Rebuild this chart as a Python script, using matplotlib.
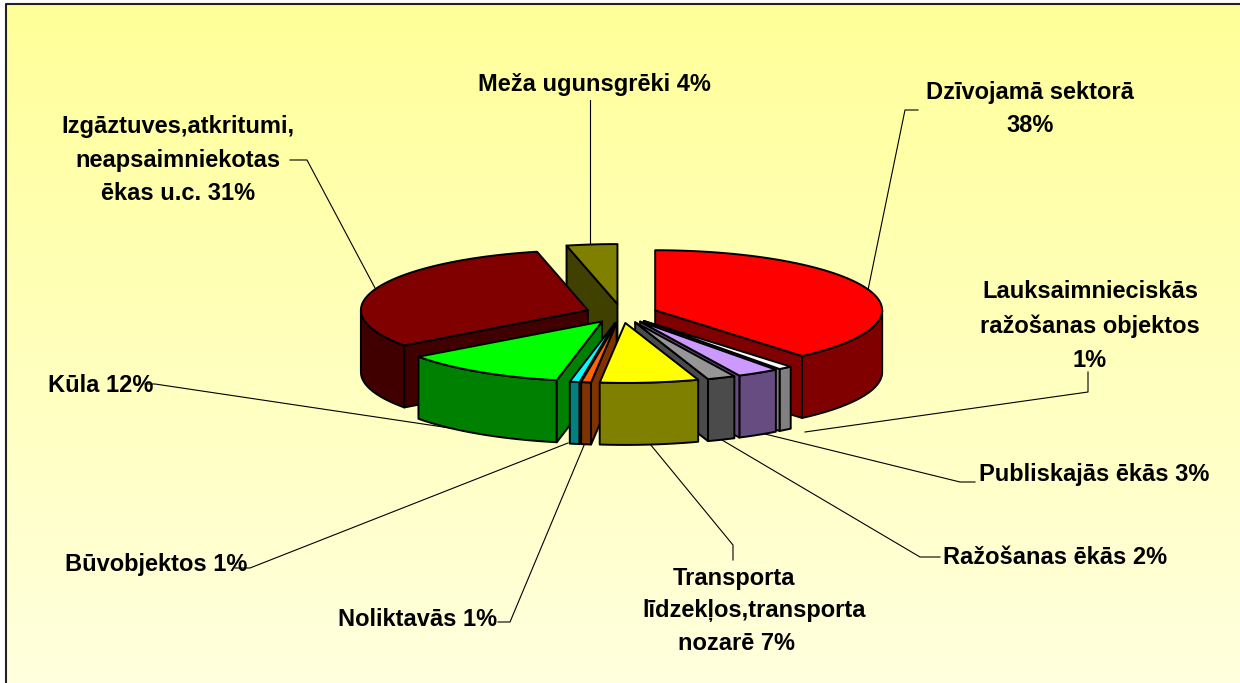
import numpy as np
import matplotlib
matplotlib.use('Agg')
import matplotlib.pyplot as plt

# share of each slice, clockwise from 12 o'clock
names = ['Dzīvojamā sektorā', 'Lauksaimnieciskās', 'Publiskajās', 'Ražošanas',
         'Transporta', 'Noliktavās', 'Būvobjektos', 'Kūla', 'Izgāztuves', 'Meža']
values = [38.8, 1.0, 3.0, 2.0, 7.0, 0.7, 0.7, 11.8, 31.4, 3.6]

top_colors = ['#FF0000', '#FFFFFF', '#CC99FF', '#969696', '#FFFF00',
              '#FF6600', '#00FFFF', '#00FF00', '#800000', '#808000']
side_colors = ['#800000', '#808080', '#664C80', '#4B4B4B', '#808000',
               '#803300', '#008080', '#008000', '#400000', '#404000']

# pie geometry, in pixels
CX, CY = 621.5, 313.5
RX, RY = 227, 60
DEPTH = 62
EXPLODE = 0.158


def pt(theta, r=1.0, ox=0.0, oy=0.0):
    # theta in degrees clockwise from the top
    t = np.radians(theta)
    return ox + r * RX * np.sin(t), oy - r * RY * np.cos(t)


def wall(ax, xs, ys, color, z):
    xs = np.asarray(xs)
    ys = np.asarray(ys)
    px = np.concatenate([xs, xs[::-1]])
    py = np.concatenate([ys, ys[::-1] + DEPTH])
    ax.fill(px, py, facecolor=color, edgecolor='black', lw=1.4, joinstyle='round', zorder=z)


fig = plt.figure(figsize=(12.4, 6.83), dpi=100)
ax = fig.add_axes([0, 0, 1, 1])
ax.set_xlim(0, 1240)
ax.set_ylim(683, 0)
ax.axis('off')

# background gradient, then the frame on the left and top
grad = np.linspace(0, 1, 256).reshape(-1, 1)
rgb = np.zeros((256, 1, 3))
rgb[..., 0] = 1.0
rgb[..., 1] = 1.0
rgb[..., 2] = 0.60 + grad * 0.27
ax.imshow(rgb, extent=[6, 1240, 683, 4], aspect='auto', zorder=0)
ax.set_xlim(0, 1240)
ax.set_ylim(683, 0)
ax.plot([6, 6, 1240], [683, 4, 4], color='#222222', lw=1.5, zorder=1)

# slices, back to front
edges = np.concatenate([[0], np.cumsum(values)]) * 3.6
mids = (edges[:-1] + edges[1:]) / 2
order = np.argsort(-np.cos(np.radians(mids)))

z = 5
for i in order:
    a0, a1 = edges[i], edges[i + 1]
    ox, oy = pt(mids[i], EXPLODE, CX, CY)
    # outer wall, only the part facing the viewer
    lo, hi = max(a0, 90), min(a1, 270)
    if hi > lo:
        th = np.linspace(lo, hi, max(2, int((hi - lo) / 2) + 1))
        wx, wy = pt(th, 1.0, ox, oy)
        wall(ax, wx, wy, side_colors[i], z)
        z += 1
    # cut faces
    if a0 > 180:
        ex, ey = pt(a0, 1.0, ox, oy)
        wall(ax, [ox, ex], [oy, ey], side_colors[i], z)
        z += 1
    if a1 < 180:
        ex, ey = pt(a1, 1.0, ox, oy)
        wall(ax, [ox, ex], [oy, ey], side_colors[i], z)
        z += 1
    # top face
    th = np.linspace(a0, a1, max(2, int((a1 - a0) / 2) + 1))
    tx, ty = pt(th, 1.0, ox, oy)
    ax.fill(np.r_[ox, tx], np.r_[oy, ty], facecolor=top_colors[i], edgecolor='black',
            lw=1.4, joinstyle='round', zorder=z)
    z += 1

# leader lines
leaders = [
    ([590, 590], [100, 243]),
    ([918, 905, 868], [110, 110, 290]),
    ([1088, 1088, 805], [372, 392, 432]),
    ([765, 960, 975], [434, 482, 482]),
    ([722, 920, 940], [440, 557, 557]),
    ([650, 733, 733], [444, 545, 560]),
    ([585, 510, 498], [443, 622, 622]),
    ([568, 250, 235], [443, 568, 568]),
    ([490, 155, 145], [434, 384, 384]),
    ([375, 307, 290], [288, 160, 160]),
]
for lx, ly in leaders:
    ax.plot(lx, ly, color='black', lw=0.8, zorder=3)

# labels
labels = [
    (594, 84, 'Meža ugunsgrēki 4%'),
    (1030, 109, 'Dzīvojamā sektorā\n38%'),
    (1090, 326, 'Lauksaimnieciskās\nražošanas objektos\n1%'),
    (1094, 474, 'Publiskajās ēkās 3%'),
    (1055, 557, 'Ražošanas ēkās 2%'),
    (734, 578, 'Transporta'),
    (754, 611, 'līdzekļos,transporta'),
    (736, 643, 'nozarē 7%'),
    (418, 619, 'Noliktavās 1%'),
    (156, 564, 'Būvobjektos 1%'),
    (101, 386, 'Kūla 12%'),
    (178, 160, 'Izgāztuves,atkritumi,\nneapsaimniekotas\nēkas u.c. 31%'),
]
for lx, ly, s in labels:
    ax.text(lx, ly, s, ha='center', va='center', family='Liberation Sans', weight='bold',
            fontsize=17, linespacing=1.6, color='black', zorder=60)

fig.savefig('out.png', dpi=100)
